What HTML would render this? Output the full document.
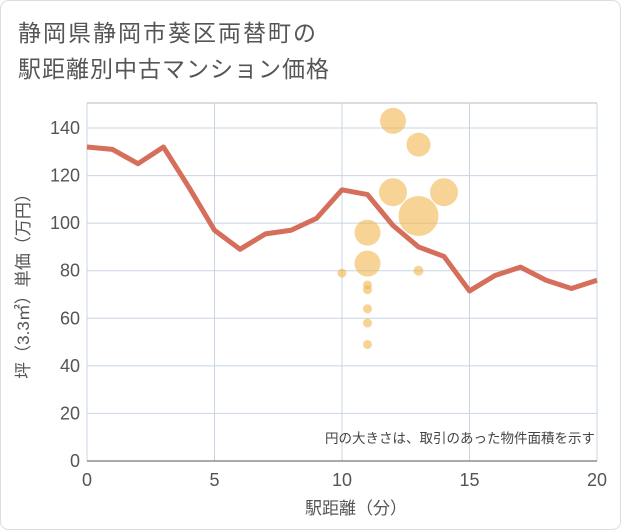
<!DOCTYPE html>
<html><head><meta charset="utf-8"><style>
body{margin:0;background:#fff;}
svg{display:block;font-family:"Liberation Sans","Noto Sans CJK JP",sans-serif;}
</style></head><body>
<svg id="c" width="621" height="530">
<rect x="0.5" y="0.5" width="620" height="529" rx="8" fill="#fff" stroke="#ddd"/>
<text x="18" y="41" font-size="23" letter-spacing="2" fill="#555">静岡県静岡市葵区両替町の</text>
<text x="18" y="77" font-size="23" letter-spacing="1" fill="#555">駅距離別中古マンション価格</text>
<g id="grid"></g><g id="marks"></g><g id="axes"></g>
<text x="595" y="443" font-size="13.5" fill="#444" text-anchor="end">円の大きさは、取引のあった物件面積を示す</text>
<text x="356" y="514" font-size="17" fill="#555" text-anchor="middle">駅距離（分）</text>
<text transform="translate(29,282) rotate(-90)" font-size="17" fill="#555" text-anchor="middle">坪（3.3㎡）単価（万円）</text>
</svg>
<script>
const lineX=[0,1,2,3,4,5,6,7,8,9,10,11,12,13,14,15,16,17,18,19,20];
const lineY=[132,131,125,132,115,97,89,95.5,97,102,114,112,99,90,86,71.5,78,81.5,76,72.5,76];
const bubX=[10,11,11,11,11,11,11,11,12,12,13,13,13,14];
const bubY=[79,74,72,64,58,49,96,83,143,113,133,103,80,113];
const bubR=[4.5,4.5,4.5,4.5,4.5,4.5,13,13,13,14,12,20,5,14];
const xTicks=[0,5,10,15,20];
const yTicks=[0,20,40,60,80,100,120,140];
const X0=87,X1=597,Y0=461,YT=103;
const sx=v=>X0+(X1-X0)*v/20;
const sy=v=>Y0-(Y0-128)*v/140;
const NS="http://www.w3.org/2000/svg";
function mk(p,t,a){const e=document.createElementNS(NS,t);for(const k in a)e.setAttribute(k,a[k]);p.appendChild(e);return e;}
const grid=document.getElementById('grid'),marks=document.getElementById('marks'),axes=document.getElementById('axes');
const bg=mk(grid,'rect',{x:X0,y:YT,width:X1-X0,height:Y0-YT,fill:'#fff'});


const tl=mk(grid,'line',{x1:X0,x2:X1,y1:YT,y2:YT,stroke:'#bbb'});


yTicks.forEach(v=>{
 const l=mk(grid,'line',{x1:X0,x2:X1,y1:sy(v),y2:sy(v),stroke:'#c8d4e3'});
 
 
 const t=mk(axes,'text',{x:X0-7,y:sy(v)+6,'font-size':18,fill:'#555','text-anchor':'end'});
 t.textContent=v;
 
 
});
xTicks.forEach(v=>{
 const l=mk(grid,'line',{x1:sx(v),x2:sx(v),y1:YT,y2:Y0,stroke:'#c8d4e3'});
 
 
 const t=mk(axes,'text',{x:sx(v),y:Y0+25,'font-size':18,fill:'#555','text-anchor':'middle'});
 t.textContent=v;
 
 
});
const ax=mk(axes,'line',{x1:X0,x2:X1,y1:Y0,y2:Y0,stroke:'#555'});


const pl=mk(marks,'polyline',{points:lineX.map((x,i)=>sx(x)+','+sy(lineY[i])).join(' '),fill:'none',stroke:'#d56e5a',"stroke-width":5,"stroke-linejoin":'round'});


bubX.forEach((x,i)=>{
 const c=mk(marks,'circle',{cx:sx(x),cy:sy(bubY[i]),r:bubR[i],fill:'#f0b040','fill-opacity':0.55});
 
 
});
</script>
</body></html>
